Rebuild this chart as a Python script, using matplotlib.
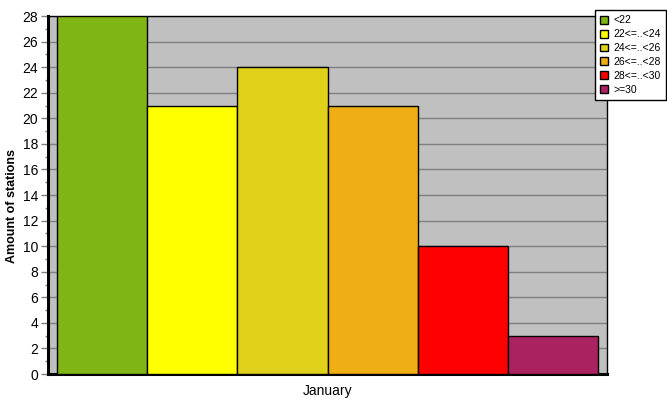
import matplotlib
matplotlib.use("Agg")
import matplotlib.pyplot as plt
from matplotlib.ticker import MultipleLocator

categories = ["<22", "22<=..<24", "24<=..<26", "26<=..<28", "28<=..<30", ">=30"]
values = [28, 21, 24, 21, 10, 3]
colors = ["#7FB514", "#FFFF00", "#E0D21A", "#EFAE14", "#FF0000", "#AA2260"]
group_label = "January"

plt.rcParams['font.family'] = ['Liberation Sans', 'DejaVu Sans']

fig = plt.figure(figsize=(6.67, 4.15), dpi=100)
ax = fig.add_axes([48/667, 41/415, (607-48)/667, (374-16)/415])
ax.set_facecolor("#C0C0C0")

x = list(range(len(values)))
handles = []
for xi, v, c, lab in zip(x, values, colors, categories):
    b = ax.bar(xi, v, width=1.0, color=c, edgecolor="black", linewidth=1.0, label=lab, zorder=3)
    handles.append(b)

ax.set_xlim(-0.6, len(values) - 0.4)
ax.set_ylim(0, 28)
ax.yaxis.set_major_locator(MultipleLocator(2))
ax.yaxis.set_minor_locator(MultipleLocator(1))
ax.grid(axis="y", which="major", color="#808080", linewidth=1.0, zorder=1)
ax.set_axisbelow(True)

ax.set_xticks([(len(values) - 1) / 2])
ax.set_xticklabels([group_label], fontsize=10)
ax.tick_params(axis="x", length=0, pad=7)
ax.tick_params(axis="y", which="major", length=5, width=1, color="#808080", labelsize=10, pad=2)
ax.tick_params(axis="y", which="minor", length=2, width=1, color="#808080")

for s in ["left", "bottom"]:
    ax.spines[s].set_linewidth(2.2)
for s in ["top", "right"]:
    ax.spines[s].set_linewidth(1.0)

ax.set_ylabel("Amount of stations", fontsize=9, fontweight="bold")
ax.yaxis.set_label_coords(-0.053, 0.47)

leg = fig.legend(handles=handles, labels=categories, loc="upper right",
                 bbox_to_anchor=(666/667, 1 - 10/415), fontsize=7.5,
                 frameon=True, fancybox=False, edgecolor="black",
                 handlelength=0.8, handleheight=0.8, handletextpad=0.5,
                 labelspacing=0.38, borderpad=0.5, borderaxespad=0)
leg.get_frame().set_linewidth(1.0)
leg.get_frame().set_facecolor("white")
leg.get_frame().set_alpha(1.0)

fig.savefig("out.png", dpi=100)
